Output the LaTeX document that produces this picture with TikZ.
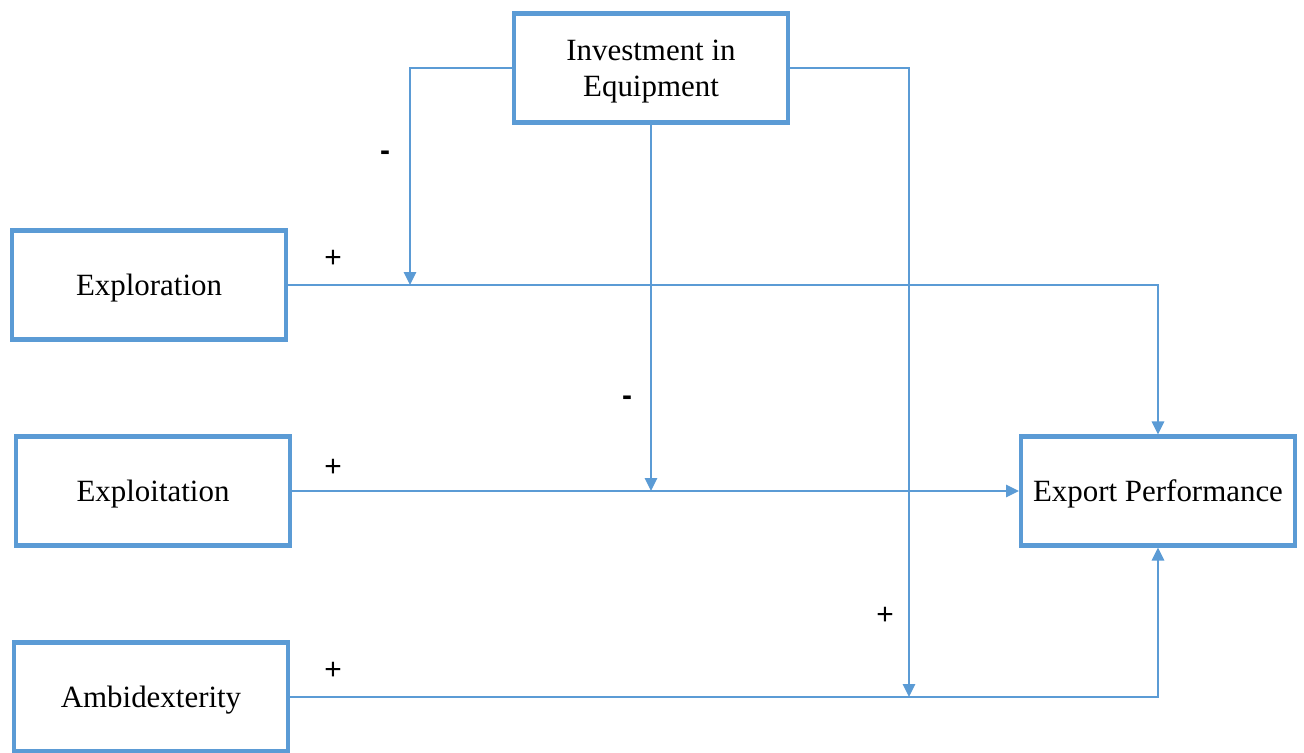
\documentclass[tikz,border=0pt]{standalone}
\usepackage{fontspec}
\setmainfont{Liberation Serif}
\newfontfamily\signoFont{Liberation Sans}
\usetikzlibrary{arrows.meta, positioning}
\definecolor{azulMarco}{HTML}{5B9BD5}
\colorlet{colLinea}{azulMarco}
\tikzset{
  cajaVar/.style={
    draw=azulMarco, line width=2.3pt,
    minimum width=5.48cm, minimum height=2.18cm,
    align=center, font=\fontsize{17.6}{20.5}\selectfont, fill=white,
    text depth=0pt
  },
  flecha/.style={-{Triangle[length=2.6mm, width=2.5mm]}, line width=0.85pt, colLinea},
  signo/.style={font=\signoFont\fontsize{17}{20}\selectfont, inner sep=0pt},
}
\begin{document}
\begin{tikzpicture}[x=0.02cm, y=-0.02cm]
  \useasboundingbox (0,0) rectangle (1304,753);
  % cajas
  \node[cajaVar] (inversion) at (651,68) {Investment in\\Equipment};
  \node[cajaVar] (exploracion) at (149,285) {Exploration};
  \node[cajaVar] (explotacion) at (153,491) {Exploitation};
  \node[cajaVar] (ambidestreza) at (151,697) {Ambidexterity};
  \node[cajaVar] (exportacion) at (1158,491) {Export Performance};
  % puntos de moderacion
  \coordinate (modA) at (410,285);
  \coordinate (modB) at (651,491);
  \coordinate (modC) at (909,697);
  % flechas
  \draw[flecha] (exploracion.east) -| (exportacion.north);
  \draw[flecha] (explotacion.east) -- (exportacion.west);
  \draw[flecha] (ambidestreza.east) -| (exportacion.south);
  \draw[flecha] (inversion.west) -| (modA);
  \draw[flecha] (inversion.south) -- (modB);
  \draw[flecha] (inversion.east) -| (modC);
  % signos
  \node[signo] (sA) at (385,156) {\bfseries -};
  \node[signo] (sB) at (333,259) {+};
  \node[signo] (sC) at (627,401) {\bfseries -};
  \node[signo] (sD) at (333,468) {+};
  \node[signo] (sE) at (885,616) {+};
  \node[signo] (sF) at (333,671) {+};
\end{tikzpicture}
\end{document}
